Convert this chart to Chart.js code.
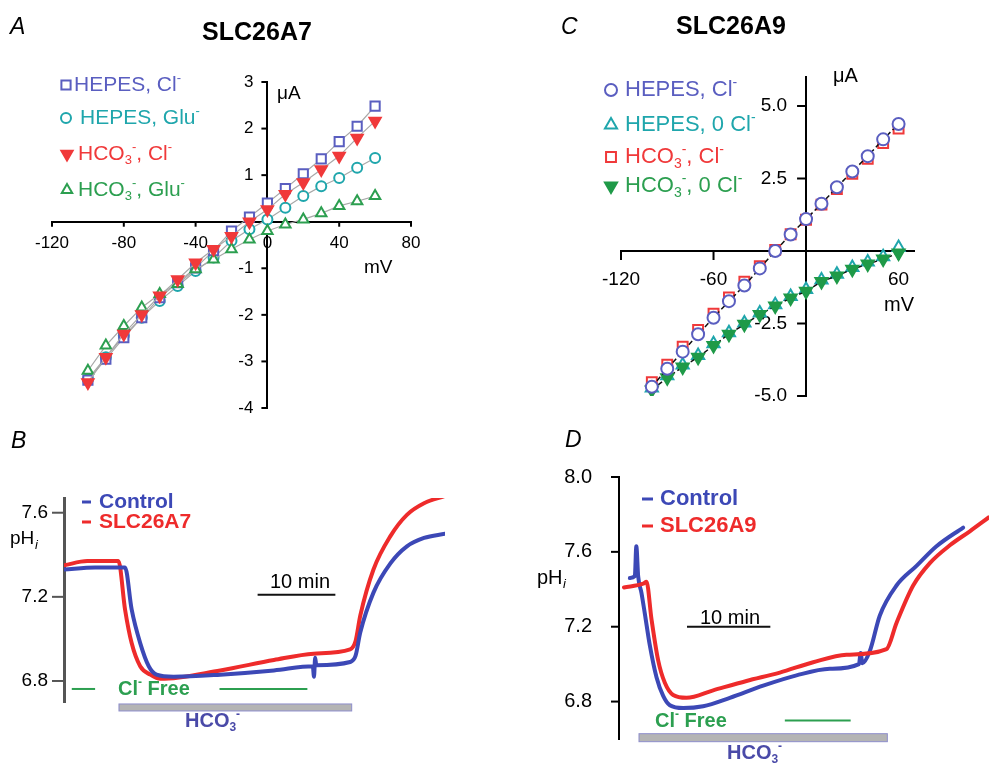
<!DOCTYPE html>
<html>
<head>
<meta charset="utf-8">
<style>
  html, body { margin: 0; padding: 0; background: #fff; }
  #wrap { position: relative; width: 989px; height: 765px; overflow: hidden; }
  canvas { position: absolute; left: 0; top: 0; }
</style>
</head>
<body>
<div id="wrap">
  <canvas id="chartA" width="989" height="765"></canvas>
  <canvas id="chartC" width="989" height="765"></canvas>
  <canvas id="chartB" width="989" height="765"></canvas>
  <canvas id="chartD" width="989" height="765"></canvas>
</div>

<script src="https://cdn.jsdelivr.net/npm/chart.js"></script>
<script>
  const FONT = "'Liberation Sans', Arial, Helvetica, sans-serif";

  // ---- panel A : SLC26A7 I/V (mV vs uA)
  const mvA = [-100, -90, -80, -70, -60, -50, -40, -30, -20, -10, 0, 10, 20, 30, 40, 50, 60];
  const hepesClA  = [-3.40, -2.95, -2.49, -2.06, -1.63, -1.31, -0.99, -0.62, -0.20, 0.10, 0.40, 0.71, 1.03, 1.35, 1.72, 2.05, 2.48];
  const hepesGluA = [-3.38, -2.91, -2.45, -2.06, -1.70, -1.38, -1.06, -0.77, -0.41, -0.16, 0.05, 0.30, 0.55, 0.76, 0.94, 1.16, 1.37];
  const hco3ClA   = [-3.45, -2.91, -2.41, -1.99, -1.59, -1.24, -0.88, -0.59, -0.31, 0.00, 0.26, 0.59, 0.84, 1.12, 1.41, 1.80, 2.16];
  const hco3GluA  = [-3.20, -2.66, -2.24, -1.84, -1.55, -1.34, -1.02, -0.81, -0.59, -0.38, -0.20, -0.06, 0.05, 0.18, 0.34, 0.44, 0.55];
  const ticksAX = [-120, -80, -40, 0, 40, 80];
  const ticksAY = [-4, -3, -2, -1, 1, 2, 3];

  // ---- panel C : SLC26A9 I/V
  const mvC = [-100, -90, -80, -70, -60, -50, -40, -30, -20, -10, 0, 10, 20, 30, 40, 50, 60];
  const hepesClC  = [-4.68, -4.06, -3.47, -2.87, -2.30, -1.73, -1.19, -0.60, 0.00, 0.57, 1.10, 1.63, 2.20, 2.74, 3.27, 3.85, 4.38];
  const hepes0ClC = [-4.72, -4.30, -3.93, -3.60, -3.20, -2.82, -2.48, -2.14, -1.85, -1.57, -1.33, -1.00, -0.80, -0.57, -0.38, -0.20, 0.12];
  const hco3ClC   = [-4.52, -3.92, -3.30, -2.72, -2.16, -1.60, -1.06, -0.52, 0.04, 0.58, 1.08, 1.60, 2.14, 2.66, 3.18, 3.72, 4.22];
  const hco30ClC  = [-4.79, -4.37, -4.00, -3.66, -3.26, -2.87, -2.53, -2.19, -1.90, -1.62, -1.39, -1.05, -0.86, -0.63, -0.45, -0.28, -0.07];
  const ticksCX = [-120, -60, 60];
  const ticksCY = [-5, -2.5, 2.5, 5];

  // ---- panel B : pHi traces, SLC26A7 (time in min)
  const tCtrlB = [0, 4, 7.85, 8.7, 9.8, 10.9, 11.9, 14.1, 20.1, 27.0, 32.0, 32.15, 32.3, 32.45, 36.8, 37.5, 38.1, 39.8, 42.0, 44.1, 46.3, 49.0];
  const pCtrlB = [7.33, 7.34, 7.34, 7.14, 6.98, 6.87, 6.83, 6.82, 6.83, 6.85, 6.87, 6.82, 6.91, 6.875, 6.89, 6.92, 7.03, 7.22, 7.36, 7.44, 7.48, 7.50];
  const tA7B   = [0, 3, 7.0, 7.85, 8.7, 9.8, 11.1, 12.4, 20.1, 27.0, 32.1, 36.8, 37.5, 38.1, 39.8, 42.0, 44.1, 46.3, 49.0];
  const pA7B   = [7.35, 7.37, 7.37, 7.14, 6.98, 6.87, 6.83, 6.81, 6.85, 6.90, 6.93, 6.95, 6.99, 7.11, 7.33, 7.49, 7.59, 7.645, 7.68];
  const ticksB = [6.8, 7.2, 7.6];

  // ---- panel D : pHi traces, SLC26A9
  const tCtrlD = [0.7, 1.3, 1.48, 1.7, 2.1, 2.5, 3.1, 3.9, 4.7, 5.5, 7.1, 9.5, 12.7, 16.7, 20.7, 24.7, 28.2, 28.4, 28.6, 29.5, 30.7, 32.7, 35.1, 37.5, 40.7];
  const pCtrlD = [7.46, 7.47, 7.63, 7.47, 7.38, 7.27, 7.10, 6.93, 6.83, 6.78, 6.765, 6.775, 6.82, 6.885, 6.94, 6.975, 7.0, 7.06, 7.005, 7.07, 7.26, 7.42, 7.525, 7.63, 7.73];
  const tA9D   = [0, 2.3, 2.7, 3.3, 4.1, 4.9, 5.9, 7.5, 10.7, 14.7, 18.7, 22.7, 26.7, 31.5, 32.7, 34.7, 36.7, 39.1, 41.5, 43.8];
  const pA9D   = [7.41, 7.43, 7.44, 7.24, 7.02, 6.90, 6.835, 6.82, 6.86, 6.91, 6.955, 7.01, 7.05, 7.08, 7.22, 7.42, 7.54, 7.635, 7.71, 7.785];
  const ticksD = [6.8, 7.2, 7.6, 8.0];

  const BLUE = '#5a5ec0', TEAL = '#1fa6ac', RED = '#f0393a', GREEN = '#2c9f50';
  const TRACE_BLUE = '#3c48b6', TRACE_RED = '#ee2b2b', BAR_BLUE = '#4a4aa8';

  Chart.defaults.font.family = FONT;
  Chart.defaults.color = '#000';

  const pts = (xs, ys) => xs.map((x, i) => ({ x, y: ys[i] }));
  const fmtInt = v => String(v);
  const fmt1 = v => v.toFixed(1);

  // text with ^x superscript and _x subscript
  function richText(ctx, str, x, y, size, weight, style, color, align) {
    const parts = [];
    str.replace(/\^(.)|_(.)|([^^_]+)/g, (m, sup, sub, txt) => {
      parts.push(sup ? [sup, 'sup'] : sub ? [sub, 'sub'] : [txt, '']);
    });
    const fontFor = k => `${style} ${weight} ${k ? Math.round(size * 0.62) : size}px ${FONT}`;
    let w = 0;
    for (const [t, k] of parts) { ctx.font = fontFor(k); w += ctx.measureText(t).width; }
    let cx = align === 'center' ? x - w / 2 : align === 'right' ? x - w : x;
    ctx.fillStyle = color;
    ctx.textBaseline = 'middle';
    ctx.textAlign = 'left';
    for (const [t, k] of parts) {
      ctx.font = fontFor(k);
      const dy = k === 'sup' ? -size * 0.33 : k === 'sub' ? size * 0.32 : 0;
      ctx.fillText(t, cx, y + dy);
      cx += ctx.measureText(t).width;
    }
  }

  function marker(ctx, ds, x, y) {
    ctx.save();
    ctx.fillStyle = ds.pointBackgroundColor;
    ctx.strokeStyle = ds.pointBorderColor;
    ctx.lineWidth = ds.pointBorderWidth;
    if (Chart.helpers && Chart.helpers.drawPoint) {
      Chart.helpers.drawPoint(ctx, { pointStyle: ds.pointStyle, rotation: ds.pointRotation || 0,
        radius: ds.pointRadius, borderWidth: ds.pointBorderWidth }, x, y);
    } else {
      ctx.beginPath(); ctx.arc(x, y, ds.pointRadius, 0, Math.PI * 2); ctx.fill(); ctx.stroke();
    }
    ctx.restore();
  }

  const NOTES = {};   // per canvas id: tick marks, y labels, legend keys, bars, labels

  const notes = {
    id: 'notes',
    beforeDatasetsDraw(chart) {
      const o = NOTES[chart.canvas.id] || {};
      const ctx = chart.ctx, sx = chart.scales.x, sy = chart.scales.y;
      ctx.save();
      (o.marks || []).forEach(m => {
        ctx.strokeStyle = m.color || '#000';
        ctx.lineWidth = m.width || 2;
        const list = m.axis === 'x' ? sx.ticks : sy.ticks;
        list.forEach(t => {
          ctx.beginPath();
          if (m.axis === 'x') {
            const px = sx.getPixelForValue(t.value), py = sy.getPixelForValue(m.at);
            ctx.moveTo(px, py); ctx.lineTo(px, py + m.len);
          } else {
            const py = sy.getPixelForValue(t.value), px = sx.getPixelForValue(m.at);
            ctx.moveTo(px, py); ctx.lineTo(px - m.len, py);
            if (m.labelGap) richText(ctx, m.fmt(t.value), px - m.labelGap, py, m.size, 'normal', 'normal', '#000', 'right');
          }
          ctx.stroke();
        });
      });
      ctx.restore();
    },
    afterDraw(chart) {
      const o = NOTES[chart.canvas.id] || {};
      const ctx = chart.ctx, sx = chart.scales.x, sy = chart.scales.y;
      ctx.save();
      (o.bars || []).forEach(b => {
        const x1 = sx.getPixelForValue(b.from), x2 = sx.getPixelForValue(b.to), py = sy.getPixelForValue(b.at);
        if (b.fill) {
          ctx.fillStyle = b.fill;
          ctx.fillRect(x1, py - b.h / 2, x2 - x1, b.h);
          ctx.strokeStyle = b.stroke; ctx.lineWidth = 1;
          ctx.strokeRect(x1, py - b.h / 2, x2 - x1, b.h);
        } else {
          ctx.strokeStyle = b.color; ctx.lineWidth = b.width;
          ctx.beginPath(); ctx.moveTo(x1, py); ctx.lineTo(x2, py); ctx.stroke();
        }
      });
      (o.keys || []).forEach(k => {
        const ds = chart.data.datasets[k.i];
        if (k.dash) {
          ctx.strokeStyle = ds.borderColor; ctx.lineWidth = 3;
          ctx.beginPath(); ctx.moveTo(k.x, k.y); ctx.lineTo(k.x + k.dash, k.y); ctx.stroke();
        } else {
          marker(ctx, ds, k.x, k.y);
        }
        richText(ctx, ds.label, k.tx, k.y, o.keySize, o.keyWeight || 'normal', 'normal', k.color, 'left');
      });
      (o.texts || []).forEach(t => richText(ctx, t.text, t.x, t.y, t.size, t.weight || 'normal',
        t.style || 'normal', t.color || '#000', t.align || 'left'));
      ctx.restore();
    }
  };

  // axis through the origin; tick marks and y labels are drawn by the notes plugin
  function crossAxis(min, max, at, ticks, size, tl, pad, fmt, showLabels) {
    return {
      type: 'linear', min, max, position: at,
      afterBuildTicks: s => { s.ticks = ticks.map(v => ({ value: v })); },
      grid: { display: false, drawTicks: true, tickLength: tl },
      border: { display: true, color: '#000', width: 2 },
      ticks: { display: showLabels, color: '#000', font: { size, family: FONT }, padding: pad,
        autoSkip: false, maxRotation: 0, callback: fmt }
    };
  }

  function scatterSet(label, data, style, radius, color, fill, rot, line, order) {
    return {
      label, data, order,
      pointStyle: style, pointRadius: radius, pointRotation: rot, pointBorderWidth: 2,
      pointBorderColor: color, pointBackgroundColor: fill,
      showLine: !!line, borderColor: line ? line.color : 'transparent', borderWidth: line ? line.width : 0,
      borderDash: line && line.dash ? line.dash : []
    };
  }

  const base = (padding, scales) => ({
    responsive: false, animation: false, events: [],
    layout: { padding }, scales,
    plugins: { legend: { display: false }, tooltip: { enabled: false } }
  });

  // ---------- A
  const grayLine = { color: '#a8a8a8', width: 1.2 };
  NOTES.chartA = {
    marks: [
      { axis: 'x', at: 0, len: 5 },
      { axis: 'y', at: 0, len: 6, labelGap: 14, size: 17, fmt: fmtInt }
    ],
    keySize: 21,
    keys: [
      { i: 0, x: 66, y: 85, tx: 74, color: BLUE },
      { i: 1, x: 66, y: 118, tx: 80, color: TEAL },
      { i: 2, x: 67, y: 154, tx: 78, color: RED },
      { i: 3, x: 67, y: 190, tx: 78, color: GREEN }
    ],
    texts: [
      { text: 'A', x: 10, y: 28, size: 23, style: 'italic' },
      { text: 'SLC26A7', x: 257, y: 33, size: 25, weight: 'bold', align: 'center' },
      { text: 'μA', x: 277, y: 94, size: 19 },
      { text: 'mV', x: 364, y: 268, size: 19 }
    ]
  };
  new Chart(document.getElementById('chartA'), {
    type: 'scatter',
    data: { datasets: [
      scatterSet('HEPES, Cl^-', pts(mvA, hepesClA), 'rect', 6.5, BLUE, '#fff', 0, grayLine, 2),
      scatterSet('HEPES, Glu^-', pts(mvA, hepesGluA), 'circle', 5, TEAL, '#fff', 0, grayLine, 3),
      scatterSet('HCO_3^-, Cl^-', pts(mvA, hco3ClA), 'triangle', 6.5, RED, RED, 180, grayLine, 0),
      scatterSet('HCO_3^-, Glu^-', pts(mvA, hco3GluA), 'triangle', 6, GREEN, '#fff', 0, grayLine, 1)
    ] },
    options: base({ left: 52, right: 989 - 411, top: 82, bottom: 765 - 408 }, {
      x: crossAxis(-120, 80, { y: 0 }, ticksAX, 17, 5, 6, fmtInt, true),
      y: crossAxis(-4, 3, { x: 0 }, ticksAY, 17, 6, 9, fmtInt, false)
    }),
    plugins: [notes]
  });

  // ---------- C
  const blackDash = { color: '#111', width: 1.5, dash: [5, 3] };
  NOTES.chartC = {
    marks: [
      { axis: 'x', at: 0, len: 9 },
      { axis: 'y', at: 0, len: 9, labelGap: 19, size: 19, fmt: fmt1 }
    ],
    keySize: 22,
    keys: [
      { i: 0, x: 611, y: 90, tx: 625, color: BLUE },
      { i: 1, x: 611, y: 125, tx: 625, color: TEAL },
      { i: 2, x: 611, y: 157, tx: 625, color: RED },
      { i: 3, x: 611, y: 186, tx: 625, color: GREEN }
    ],
    texts: [
      { text: 'C', x: 561, y: 28, size: 23, style: 'italic' },
      { text: 'SLC26A9', x: 731, y: 27, size: 25, weight: 'bold', align: 'center' },
      { text: 'μA', x: 833, y: 76, size: 20 },
      { text: 'mV', x: 884, y: 305, size: 20 }
    ]
  };
  new Chart(document.getElementById('chartC'), {
    type: 'scatter',
    data: { datasets: [
      scatterSet('HEPES, Cl^-', pts(mvC, hepesClC), 'circle', 6, BLUE, '#fff', 0, blackDash, 0),
      scatterSet('HEPES, 0 Cl^-', pts(mvC, hepes0ClC), 'triangle', 7, TEAL, '#fff', 0, null, 3),
      scatterSet('HCO_3^-, Cl^-', pts(mvC, hco3ClC), 'rect', 7, RED, '#fff', 0, null, 1),
      scatterSet('HCO_3^-, 0 Cl^-', pts(mvC, hco30ClC), 'triangle', 7, '#1f9a48', '#1f9a48', 180, blackDash, 2)
    ] },
    options: base({ left: 621, right: 989 - 914, top: 77, bottom: 765 - 396 }, {
      x: crossAxis(-120, 70, { y: 0 }, ticksCX, 19, 9, 8, fmtInt, true),
      y: crossAxis(-5, 6, { x: 0 }, ticksCY, 19, 9, 10, fmt1, false)
    }),
    plugins: [notes]
  });

  // ---------- B & D
  function traceSet(label, data, color, order) {
    return { label, data, order, showLine: true, pointRadius: 0, borderColor: color, borderWidth: 4,
      cubicInterpolationMode: 'monotone', borderJoinStyle: 'round', borderCapStyle: 'round' };
  }
  // ordinary left axis, fixed width so the plot starts where the trace starts
  // (label gap goes in tickLength, padding stays 0 so it does not eat into the plot height)
  function phAxis(min, max, ticks, size, gap, color, width, boxWidth) {
    return {
      type: 'linear', min, max, position: 'left',
      afterBuildTicks: s => { s.ticks = ticks.map(v => ({ value: v })); },
      afterFit: s => { s.width = boxWidth; },
      grid: { display: false, drawTicks: true, tickLength: gap },
      border: { display: true, color, width },
      ticks: { color: '#000', font: { size, family: FONT }, padding: 0, autoSkip: false, callback: fmt1 }
    };
  }

  NOTES.chartB = {
    marks: [{ axis: 'y', at: 0, len: 12, color: '#555', width: 2 }],
    keySize: 21, keyWeight: 'bold',
    keys: [
      { i: 0, dash: 9, x: 82, y: 502, tx: 99, color: TRACE_BLUE },
      { i: 1, dash: 9, x: 82, y: 522, tx: 99, color: TRACE_RED }
    ],
    bars: [
      { from: 1.0, to: 4.0, at: 6.762, color: GREEN, width: 2 },
      { from: 20.0, to: 31.3, at: 6.762, color: GREEN, width: 2 },
      { from: 7.07, to: 37.0, at: 6.674, h: 7, fill: '#b4b4b4', stroke: '#8e8ecc' },
      { from: 24.9, to: 34.9, at: 7.21, color: '#111', width: 2 }
    ],
    texts: [
      { text: 'B', x: 11, y: 442, size: 23, style: 'italic' },
      { text: 'pH', x: 10, y: 539, size: 19 },
      { text: 'i', x: 35, y: 545, size: 13, style: 'italic' },
      { text: '10 min', x: 300, y: 582, size: 20, align: 'center' },
      { text: 'Cl^- Free', x: 118, y: 689, size: 20, weight: 'bold', color: GREEN },
      { text: 'HCO_3^-', x: 185, y: 721, size: 20, weight: 'bold', color: BAR_BLUE }
    ]
  };
  new Chart(document.getElementById('chartB'), {
    type: 'scatter',
    data: { datasets: [
      traceSet('Control', pts(tCtrlB, pCtrlB), TRACE_BLUE, 0),
      traceSet('SLC26A7', pts(tA7B, pA7B), TRACE_RED, 1)
    ] },
    options: base({ left: 0, right: 989 - 445, top: 498, bottom: 765 - 702 }, {
      x: { type: 'linear', min: 0, max: 49, display: false },
      y: phAxis(6.7, 7.67, ticksB, 19, 16, '#555', 3, 64)
    }),
    plugins: [notes]
  });

  NOTES.chartD = {
    marks: [{ axis: 'y', at: -0.6, len: 8, color: '#000', width: 2 }],
    keySize: 22, keyWeight: 'bold',
    keys: [
      { i: 0, dash: 11, x: 642, y: 499, tx: 660, color: TRACE_BLUE },
      { i: 1, dash: 11, x: 642, y: 526, tx: 660, color: TRACE_RED }
    ],
    bars: [
      { from: 19.3, to: 27.2, at: 6.699, color: GREEN, width: 2 },
      { from: 1.8, to: 31.6, at: 6.607, h: 8, fill: '#b4b4b4', stroke: '#8e8ecc' },
      { from: 7.56, to: 17.56, at: 7.2, color: '#111', width: 2 }
    ],
    texts: [
      { text: 'D', x: 565, y: 441, size: 23, style: 'italic' },
      { text: 'pH', x: 537, y: 578, size: 20 },
      { text: 'i', x: 563, y: 584, size: 13, style: 'italic' },
      { text: '10 min', x: 730, y: 618, size: 20, align: 'center' },
      { text: 'Cl^- Free', x: 655, y: 721, size: 20, weight: 'bold', color: GREEN },
      { text: 'HCO_3^-', x: 727, y: 753, size: 20, weight: 'bold', color: BAR_BLUE }
    ]
  };
  new Chart(document.getElementById('chartD'), {
    type: 'scatter',
    data: { datasets: [
      traceSet('Control', pts(tCtrlD, pCtrlD), TRACE_BLUE, 1),
      traceSet('SLC26A9', pts(tA9D, pA9D), TRACE_RED, 0)
    ] },
    options: base({ left: 519, right: 0, top: 477, bottom: 765 - 739 }, {
      x: { type: 'linear', min: -0.6, max: 43.8, display: false },
      y: phAxis(6.6, 8.0, ticksD, 20, 27, '#000', 2, 100)
    }),
    plugins: [notes]
  });
</script>
</body>
</html>
